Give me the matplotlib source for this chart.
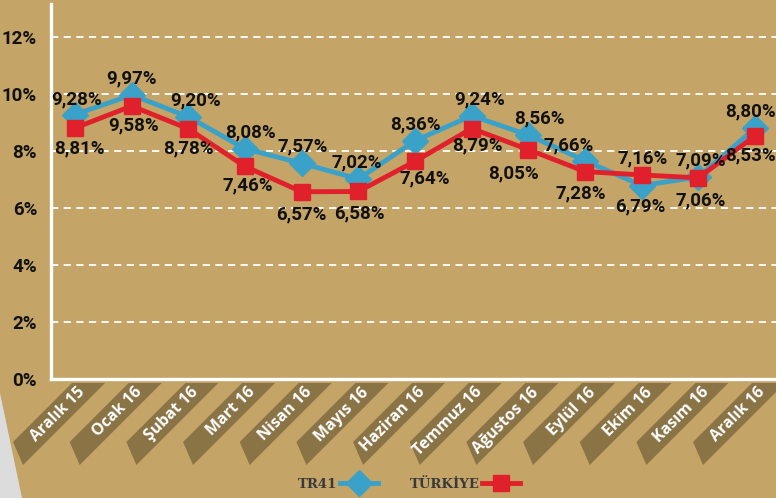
import numpy as np
import matplotlib
matplotlib.use('Agg')
import matplotlib.pyplot as plt
from matplotlib.patches import Polygon
from matplotlib.transforms import IdentityTransform
from matplotlib.lines import Line2D

months = ['Aralık 15', 'Ocak 16', 'Şubat 16', 'Mart 16', 'Nisan 16', 'Mayıs 16',
          'Haziran 16', 'Temmuz 16', 'Ağustos 16', 'Eylül 16', 'Ekim 16',
          'Kasım 16', 'Aralık 16']
tr41 = [9.28, 9.97, 9.20, 8.08, 7.57, 7.02, 8.36, 9.24, 8.56, 7.66, 6.79, 7.09, 8.80]
turkiye = [8.81, 9.58, 8.78, 7.46, 6.57, 6.58, 7.64, 8.79, 8.05, 7.28, 7.16, 7.06, 8.53]
yticks = [0, 2, 4, 6, 8, 10, 12]
series_names = ['TR41', 'TÜRKİYE']

# label placement (points), kept apart from the data
blue_off = [(1, 11), (0, 12), (5, 12), (4, 12), (1, 12), (-1, 12), (0, 12),
            (6, 12), (8, 12), (-12, 11), (-1, -15), (2, 12), (-3, 12)]
red_off = [(3, -15), (1, -14), (0, -14), (2, -14), (0, -16), (1, -16), (7, -12),
           (4, -12), (-11, -17), (-3, -16), (1, 12), (2, -16), (-3, -14)]

BG = '#C5A468'
BOX = '#8A7446'
BLUE = '#3AA2C8'
RED = '#E0202A'
W, H = 776, 498
num_font = ['Roboto', 'DejaVu Sans']


def fmt(v):
    return f'{v:.2f}'.replace('.', ',') + '%'


fig = plt.figure(figsize=(W / 100, H / 100), dpi=100, facecolor=BG)
fig.patches.append(Polygon([[0, 0], [22, 0], [0, 105]], closed=True,
                           transform=IdentityTransform(),
                           facecolor='#DCDCDC', edgecolor='none'))

ax = fig.add_axes([51 / W, 119 / H, 725 / W, 375 / H])
ax.set_facecolor('none')
x = np.arange(len(months))
ax.set_xlim(-0.424, 12.37)
ax.set_ylim(0, 13.16)

for t in yticks[1:]:
    ax.axhline(t, color='white', lw=1.3, ls=(0, (4, 3)), zorder=1)

for s in ['top', 'right']:
    ax.spines[s].set_visible(False)
for s in ['left', 'bottom']:
    ax.spines[s].set_color('white')
    ax.spines[s].set_linewidth(2.4)

ax.plot(x, tr41, color=BLUE, lw=3.5, marker='D', ms=13, zorder=3, clip_on=False)
ax.plot(x, turkiye, color=RED, lw=3.5, marker='s', ms=11, zorder=4, clip_on=False)

for i in range(len(months)):
    ax.annotate(fmt(tr41[i]), (x[i], tr41[i]), xytext=blue_off[i],
                textcoords='offset points', ha='center', va='center',
                fontsize=13.5, fontweight='bold', family=num_font, color='#111111', zorder=5)
    ax.annotate(fmt(turkiye[i]), (x[i], turkiye[i]), xytext=red_off[i],
                textcoords='offset points', ha='center', va='center',
                fontsize=13.5, fontweight='bold', family=num_font, color='#111111', zorder=5)

ax.set_yticks(yticks)
ax.set_yticklabels([f'{t}%' for t in yticks], fontsize=13.5, fontweight='bold',
                   family=num_font, color='#111111')
ax.tick_params(axis='y', length=0, pad=10)
ax.set_xticks([])

# slanted month tags under the axis
for i, m in enumerate(months):
    px = ax.transData.transform((x[i], 0))[0]
    fig.patches.append(Polygon([[px - 3, 115], [px + 30, 115], [px - 52, 33], [px - 62, 56]],
                               closed=True, transform=IdentityTransform(),
                               facecolor=BOX, edgecolor='none'))
    fig.text(px + 8, 108, m, transform=IdentityTransform(), rotation=45,
             rotation_mode='anchor', ha='right', va='center', color='white',
             fontsize=11.5, fontweight='bold', family=['Open Sans', 'DejaVu Sans'])

handles = [Line2D([], [], color=BLUE, lw=3.5, marker='D', ms=13),
           Line2D([], [], color=RED, lw=3.5, marker='s', ms=11)]
fig.legend(handles, series_names, loc='center', bbox_to_anchor=(0.527, 0.028),
           ncol=2, markerfirst=False, frameon=False, handlelength=2.9,
           handletextpad=0.2, columnspacing=2.4, labelcolor='#3a3a3a',
           prop=dict(family='DejaVu Serif', weight='bold', size=9.5))

fig.savefig('out.png', dpi=100, facecolor=BG)
